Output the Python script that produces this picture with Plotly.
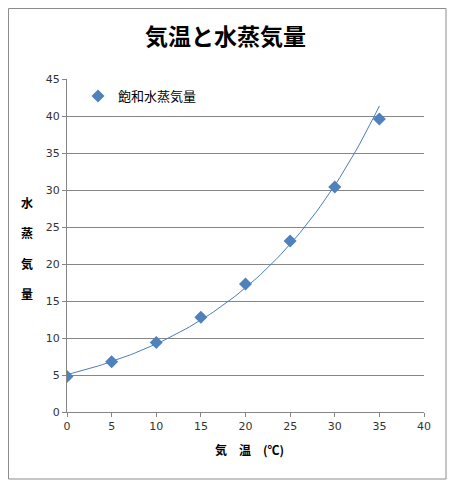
import numpy as np
import plotly.graph_objects as go

# saturated vapour amount (g/m3) at each air temperature
temps = [0, 5, 10, 15, 20, 25, 30, 35]
vapour = [4.8, 6.8, 9.4, 12.8, 17.3, 23.1, 30.4, 39.6]

title_text = "気温と水蒸気量"
series_name = "飽和水蒸気量"
x_title = "気　温　(℃)"
y_title_chars = ["水", "蒸", "気", "量"]

jp_font = "Noto Sans CJK JP"

# exponential trendline (least squares on log values, like the spreadsheet)
b, ln_a = np.polyfit(temps, np.log(vapour), 1)
trend_x = np.linspace(min(temps), max(temps), 80)
trend_y = np.exp(ln_a) * np.exp(b * trend_x)

fig = go.Figure()

fig.add_trace(go.Scatter(x=trend_x, y=trend_y, mode="lines",
                         line=dict(color="#4a7ebb", width=1),
                         showlegend=False, hoverinfo="skip"))

fig.add_trace(go.Scatter(x=temps, y=vapour, mode="markers", name=series_name,
                         marker=dict(symbol="diamond", size=10, color="#4f81bd",
                                     line=dict(width=0))))

# page has an 8px body margin, so the figure is a bit smaller than the window
OFF = 8
W, H = 459 - OFF, 486 - OFF
L, T = 67 - OFF, 79 - OFF
R = W - (424 - OFF)
B = H - (412 - OFF)
pw, ph = W - L - R, H - T - B

def px(x):
    return (x - OFF - L) / pw

def py(y):
    return (H - B - (y - OFF)) / ph

annotations = [dict(text="<b>" + c + "</b>", x=px(27), y=py(202 + i * 30.5),
                    xref="paper", yref="paper", showarrow=False,
                    font=dict(family=jp_font, size=12, color="#000"),
                    xanchor="center", yanchor="middle")
               for i, c in enumerate(y_title_chars)]
annotations.append(dict(text="<b>" + x_title + "</b>", x=px(249), y=py(449),
                        xref="paper", yref="paper", showarrow=False,
                        font=dict(family=jp_font, size=12, color="#000"),
                        xanchor="center", yanchor="middle"))
annotations.append(dict(text="<b>" + title_text + "</b>", x=px(225), y=py(35),
                        xref="paper", yref="paper", showarrow=False,
                        font=dict(family=jp_font, size=23, color="#000"),
                        xanchor="center", yanchor="middle"))

fig.update_layout(
    width=W, height=H,
    margin=dict(l=L, r=R, t=T, b=B),
    paper_bgcolor="white", plot_bgcolor="white",
    font=dict(family=jp_font, size=11, color="#222"),
    annotations=annotations,
    shapes=[dict(type="rect", xref="paper", yref="paper",
                 x0=px(OFF + 0.5), x1=px(446), y0=py(479), y1=py(OFF + 0.5),
                 line=dict(color="#8c8c8c", width=1))],
    legend=dict(x=px(78), y=py(96), xanchor="left", yanchor="middle",
                bgcolor="rgba(0,0,0,0)", itemwidth=30,
                font=dict(family=jp_font, size=13, color="#000")),
    xaxis=dict(range=[0, 40], dtick=5, showgrid=False, zeroline=False,
               showline=True, linecolor="#868686", linewidth=1,
               ticks="outside", ticklen=4, tickcolor="#868686",
               tickfont=dict(family="DejaVu Sans", size=11, color="#333")),
    yaxis=dict(range=[0, 45], dtick=5, showgrid=True, gridcolor="#868686",
               gridwidth=1, zeroline=False,
               showline=True, linecolor="#868686", linewidth=1,
               ticks="outside", ticklen=4, tickcolor="#868686",
               tickfont=dict(family="DejaVu Sans", size=11, color="#333")),
)

fig.write_html("out.html")
